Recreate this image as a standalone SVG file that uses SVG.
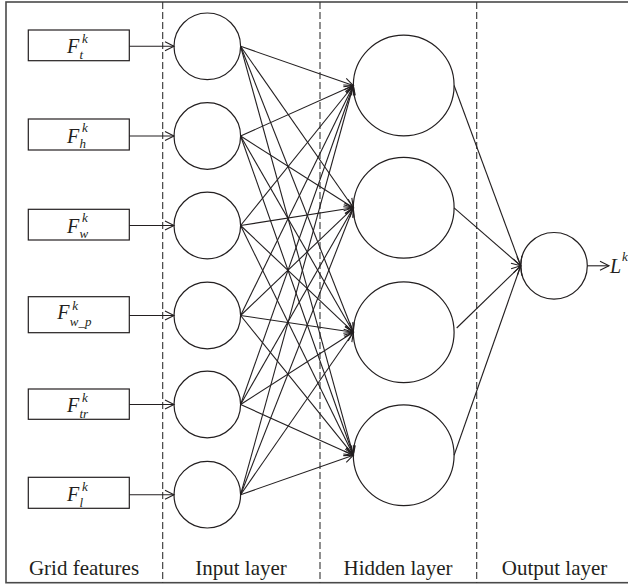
<svg xmlns="http://www.w3.org/2000/svg" width="628" height="586" viewBox="0 0 628 586">
<defs>
<marker id="ah" markerUnits="userSpaceOnUse" markerWidth="12" markerHeight="12" refX="9" refY="5" orient="auto" overflow="visible">
<path d="M0,0.5 L9,5 L0,9.5" fill="none" stroke="#231f20" stroke-width="1.1"/>
</marker>
<style>
.frame{fill:none;stroke:#4a4a4a;stroke-width:1.6}
.dash{stroke:#333;stroke-width:1.1;stroke-dasharray:7,3}
.box{fill:#fff;stroke:#231f20;stroke-width:1.2}
.node{fill:#fff;stroke:#231f20;stroke-width:1.2}
.conn line{stroke:#231f20;stroke-width:1.1;marker-end:url(#ah)}
.m{font-family:"Liberation Serif",serif;font-style:italic;fill:#231f20;font-size:20px}
.s{font-size:13px}
.lab{font-family:"Liberation Serif",serif;font-size:21px;fill:#231f20;text-anchor:middle}
</style>
</defs>
<rect width="628" height="586" fill="#fff"/>
<rect class="frame" x="6" y="2" width="624" height="580.7"/>
<line class="dash" x1="162.7" y1="2" x2="162.7" y2="582.7"/>
<line class="dash" x1="320" y1="2" x2="320" y2="582.7"/>
<line class="dash" x1="476.7" y1="2" x2="476.7" y2="582.7"/>

<g id="feat-t"><rect class="box" x="28.3" y="30" width="101" height="30.7"/>
<text class="m" x="67" y="53.3">F<tspan class="s" x="82" y="43">k</tspan><tspan class="s" x="79.5" y="59">t</tspan></text></g>
<g id="feat-h"><rect class="box" x="28.3" y="119" width="101" height="31"/>
<text class="m" x="67" y="142.5">F<tspan class="s" x="82" y="132.2">k</tspan><tspan class="s" x="79.5" y="148.2">h</tspan></text></g>
<g id="feat-w"><rect class="box" x="28.3" y="209.3" width="101" height="30.7"/>
<text class="m" x="67" y="232.7">F<tspan class="s" x="82" y="222.4">k</tspan><tspan class="s" x="79.5" y="238.4">w</tspan></text></g>
<g id="feat-wp"><rect class="box" x="28.3" y="296.7" width="101" height="36"/>
<text class="m" x="57.3" y="319.3">F<tspan class="s" x="72.3" y="309.5">k</tspan><tspan class="s" x="69.8" y="325.5">w_p</tspan></text></g>
<g id="feat-tr"><rect class="box" x="28.3" y="389" width="101" height="30.3"/>
<text class="m" x="67" y="412.2">F<tspan class="s" x="82" y="401.9">k</tspan><tspan class="s" x="79.5" y="417.9">tr</tspan></text></g>
<g id="feat-l"><rect class="box" x="28.3" y="477.3" width="101" height="31"/>
<text class="m" x="67" y="500.8">F<tspan class="s" x="82" y="490.5">k</tspan><tspan class="s" x="79.5" y="506.5">l</tspan></text></g>

<g id="in1"><circle class="node" cx="207.3" cy="46.3" r="33.3"/></g>
<g id="in2"><circle class="node" cx="207.3" cy="136" r="33.3"/></g>
<g id="in3"><circle class="node" cx="207.3" cy="225.5" r="33.3"/></g>
<g id="in4"><circle class="node" cx="207.3" cy="315.5" r="33.3"/></g>
<g id="in5"><circle class="node" cx="207.3" cy="404.5" r="33.3"/></g>
<g id="in6"><circle class="node" cx="207.3" cy="494.7" r="33.3"/></g>

<g id="h1"><circle class="node" cx="403.7" cy="85.5" r="50.4"/></g>
<g id="h2"><circle class="node" cx="403.7" cy="207.8" r="50.4"/></g>
<g id="h3"><circle class="node" cx="403.7" cy="332.2" r="50.4"/></g>
<g id="h4"><circle class="node" cx="403.7" cy="455.2" r="50.4"/></g>

<g id="out"><circle class="node" cx="554" cy="265.8" r="33.3"/></g>

<g id="connectors" class="conn">
<line x1="129.3" y1="46.3" x2="174" y2="46.3"/>
<line x1="129.3" y1="136" x2="174" y2="136"/>
<line x1="129.3" y1="225.5" x2="174" y2="225.5"/>
<line x1="129.3" y1="315.5" x2="174" y2="315.5"/>
<line x1="129.3" y1="404.5" x2="174" y2="404.5"/>
<line x1="129.3" y1="494.7" x2="174" y2="494.7"/>

<line x1="240.6" y1="46.3" x2="353.3" y2="85.5"/>
<line x1="240.6" y1="46.3" x2="353.3" y2="207.8"/>
<line x1="240.6" y1="46.3" x2="353.3" y2="332.2"/>
<line x1="240.6" y1="46.3" x2="353.3" y2="455.2"/>
<line x1="240.6" y1="136" x2="353.3" y2="85.5"/>
<line x1="240.6" y1="136" x2="353.3" y2="207.8"/>
<line x1="240.6" y1="136" x2="353.3" y2="332.2"/>
<line x1="240.6" y1="136" x2="353.3" y2="455.2"/>
<line x1="240.6" y1="225.5" x2="353.3" y2="85.5"/>
<line x1="240.6" y1="225.5" x2="353.3" y2="207.8"/>
<line x1="240.6" y1="225.5" x2="353.3" y2="332.2"/>
<line x1="240.6" y1="225.5" x2="353.3" y2="455.2"/>
<line x1="240.6" y1="315.5" x2="353.3" y2="85.5"/>
<line x1="240.6" y1="315.5" x2="353.3" y2="207.8"/>
<line x1="240.6" y1="315.5" x2="353.3" y2="332.2"/>
<line x1="240.6" y1="315.5" x2="353.3" y2="455.2"/>
<line x1="240.6" y1="404.5" x2="353.3" y2="85.5"/>
<line x1="240.6" y1="404.5" x2="353.3" y2="207.8"/>
<line x1="240.6" y1="404.5" x2="353.3" y2="332.2"/>
<line x1="240.6" y1="404.5" x2="353.3" y2="455.2"/>
<line x1="240.6" y1="494.7" x2="353.3" y2="85.5"/>
<line x1="240.6" y1="494.7" x2="353.3" y2="207.8"/>
<line x1="240.6" y1="494.7" x2="353.3" y2="332.2"/>
<line x1="240.6" y1="494.7" x2="353.3" y2="455.2"/>

<line x1="454.1" y1="85.5" x2="520.7" y2="265.8"/>
<line x1="454.1" y1="207.8" x2="520.7" y2="265.8"/>
<line x1="456.7" y1="328" x2="520.7" y2="265.8"/>
<line x1="454.1" y1="455.2" x2="520.7" y2="265.8"/>

<line x1="587.3" y1="265.8" x2="609" y2="265.8"/>
</g>

<g id="output-label"><text class="m" x="610" y="272.7">L<tspan class="s" x="622" y="261">k</tspan></text></g>

<g id="labels">
<text class="lab" x="84" y="575">Grid features</text>
<text class="lab" x="241" y="575">Input layer</text>
<text class="lab" x="398" y="575">Hidden layer</text>
<text class="lab" x="554.5" y="575">Output layer</text>
</g>
</svg>
